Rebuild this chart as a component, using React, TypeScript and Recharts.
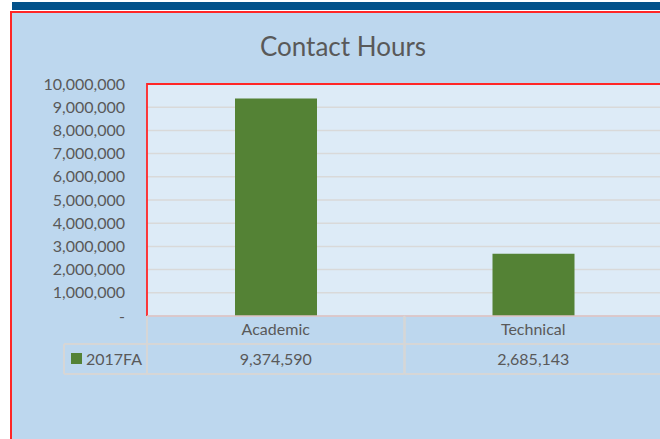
import React from "react";
import {
  BarChart,
  Bar,
  XAxis,
  YAxis,
  CartesianGrid,
  ReferenceArea,
} from "recharts";

const categories = ["Academic", "Technical"];
const seriesName = "2017FA";
const contactHours2017FA = [9374590, 2685143];
const yTicks = [0, 1000000, 2000000, 3000000, 4000000, 5000000, 6000000, 7000000, 8000000, 9000000, 10000000];

const data = categories.map((category, i) => ({
  category,
  value: contactHours2017FA[i],
}));

const TEXT = "#595959";
const GREEN = "#548235";
const TABLE_LINE = "#D6D6D6";
const RED = "#FF2626";
const FONT = "Lato, 'Open Sans', sans-serif";

const fmt = (v: number) => (v === 0 ? "-" : v.toLocaleString("en-US"));

// plot frame: red on left, top and right; the table's top edge closes it
const PlotFrame = (props: any) => {
  const { x, y, width, height } = props;
  return (
    <path
      d={`M${x},${y + height} L${x},${y} L${x + width},${y} L${x + width},${y + height}`}
      fill="none"
      stroke={RED}
      strokeWidth={1.8}
    />
  );
};

// draws the data table under the plot: header cell, value cell and the legend key
const TableTick = (props: any) => {
  const { x, y, payload, index } = props;
  const half = payload?.offset || 128.5;
  const left = x - half;
  const right = x + half;
  const rowH = 28;
  const bottom = y + rowH * 2 + 2;
  return (
    <g fontFamily={FONT} fontSize={16} fill={TEXT}>
      <line x1={left} y1={y} x2={right} y2={y} stroke="#DCC2C4" strokeWidth={1.5} />
      <line x1={left} y1={y} x2={left} y2={bottom} stroke={TABLE_LINE} strokeWidth={2} />
      <line x1={right} y1={y} x2={right} y2={bottom} stroke={TABLE_LINE} strokeWidth={2} />
      <line x1={left} y1={y + rowH} x2={right} y2={y + rowH} stroke={TABLE_LINE} strokeWidth={2} />
      <line x1={left} y1={bottom} x2={right} y2={bottom} stroke={TABLE_LINE} strokeWidth={2} />
      <text x={x} y={y + 13} textAnchor="middle" dy="0.355em">
        {payload.value}
      </text>
      <text x={x} y={y + 43} textAnchor="middle" dy="0.355em">
        {fmt(contactHours2017FA[index])}
      </text>
      {index === 0 && (
        <g>
          <line x1={64} y1={y + rowH} x2={left} y2={y + rowH} stroke={TABLE_LINE} strokeWidth={2} />
          <line x1={64} y1={bottom} x2={left} y2={bottom} stroke={TABLE_LINE} strokeWidth={2} />
          <line x1={64} y1={y + rowH} x2={64} y2={bottom} stroke={TABLE_LINE} strokeWidth={2} />
          <rect x={71} y={y + 37} width={11} height={11} fill={GREEN} />
          <text x={86} y={y + 43} dy="0.355em">
            {seriesName}
          </text>
        </g>
      )}
    </g>
  );
};

export default function App() {
  return (
    <div
      style={{
        position: "absolute",
        left: 0,
        top: 0,
        width: 660,
        height: 439,
        overflow: "hidden",
        background: "#fff",
        fontFamily: FONT,
      }}
    >
      <div style={{ position: "absolute", left: 12, top: 2, width: 660, height: 8, background: "#03528A" }} />
      <div
        style={{
          position: "absolute",
          left: 10,
          top: 11,
          width: 700,
          height: 460,
          boxSizing: "border-box",
          background: "#BDD7EE",
          border: `2px solid ${RED}`,
        }}
      />
      <div
        style={{
          position: "absolute",
          left: 0,
          top: 33,
          width: 686,
          textAlign: "center",
          fontSize: 26,
          lineHeight: "26px",
          color: TEXT,
        }}
      >
        Contact Hours
      </div>
      <div style={{ position: "absolute", left: 0, top: 0 }}>
        <BarChart
          width={680}
          height={439}
          data={data}
          margin={{ top: 84, right: 18, bottom: 63, left: 0 }}
        >
          <CartesianGrid vertical={false} stroke="#D9D9D9" strokeWidth={1.5} fill="#DDEBF7" fillOpacity={1} />
          <YAxis
            width={147}
            domain={[0, 10000000]}
            ticks={yTicks}
            interval={0}
            tickFormatter={fmt}
            axisLine={false}
            tickLine={false}
            tickSize={0}
            tickMargin={22}
            tick={{ fill: TEXT, fontSize: 16, fontFamily: FONT }}
          />
          <Bar dataKey="value" fill={GREEN} barSize={82} isAnimationActive={false} />
          <ReferenceArea y1={0} y2={10000000} shape={<PlotFrame />} ifOverflow="visible" />
          <XAxis
            dataKey="category"
            height={60}
            axisLine={false}
            tickLine={false}
            tickSize={0}
            tickMargin={0}
            interval={0}
            tick={<TableTick />}
          />
        </BarChart>
      </div>
    </div>
  );
}
